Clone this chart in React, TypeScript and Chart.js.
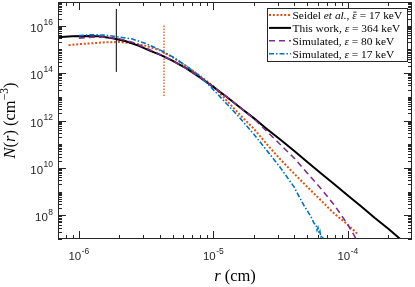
import React, { useEffect, useRef } from "react";
import { Chart, registerables } from "chart.js";

Chart.register(...registerables);

// ---------- data ----------
const seidelR = [8.4e-7, 1e-6, 1.26e-6, 1.58e-6, 2e-6, 2.5e-6, 3.16e-6, 3.98e-6, 5e-6, 6.3e-6, 7.94e-6, 1e-5, 1.26e-5, 1.58e-5, 2e-5, 2.5e-5, 3.16e-5, 3.98e-5, 5e-5, 6.3e-5, 7.94e-5, 1e-4, 1.2e-4];
const seidelN = [1.51e15, 1.66e15, 1.82e15, 2.0e15, 2.04e15, 1.86e15, 1.41e15, 9.3e14, 4.6e14, 1.95e14, 7.6e13, 2.8e13, 6.8e12, 1.74e12, 4.5e11, 1.0e11, 2.24e10, 5.8e9, 1.58e9, 4.3e8, 1.17e8, 4.0e7, 1.5e7];

const thisWorkR = [7e-7, 8.9e-7, 1.12e-6, 1.41e-6, 1.78e-6, 2.24e-6, 2.8e-6, 3.4e-6, 4e-6, 5e-6, 6.3e-6, 7.94e-6, 1e-5, 1.26e-5, 1.58e-5, 2e-5, 2.5e-5, 3.16e-5, 3.98e-5, 5e-5, 6.3e-5, 7.94e-5, 1e-4, 1.26e-4, 1.58e-4, 2.0e-4, 2.5e-4];
const thisWorkN = [3.24e15, 3.55e15, 3.7e15, 3.55e15, 2.95e15, 2.19e15, 1.41e15, 8.7e14, 6.0e14, 3.3e14, 1.58e14, 6.6e13, 2.63e13, 9.8e12, 3.55e12, 1.26e12, 4.42e11, 1.53e11, 5.25e10, 1.78e10, 6.0e9, 2.04e9, 6.9e8, 2.34e8, 7.9e7, 2.7e7, 9.1e6];

const sim80R = [1e-6, 1.26e-6, 1.58e-6, 2e-6, 2.5e-6, 3.16e-6, 3.98e-6, 5e-6, 6.3e-6, 7.94e-6, 1e-5, 1.26e-5, 1.58e-5, 2e-5, 2.5e-5, 3.16e-5, 3.98e-5, 5e-5, 6.3e-5, 7.94e-5, 1e-4, 1.12e-4, 1.16e-4];
const sim80N = [3.0e15, 3.3e15, 3.3e15, 2.8e15, 2.0e15, 1.15e15, 6.3e14, 3.3e14, 1.58e14, 6.8e13, 2.63e13, 1.0e13, 3.55e12, 1.2e12, 3.47e11, 9.5e10, 2.63e10, 6.0e9, 1.35e9, 2.7e8, 4.0e7, 1.35e7, 8.9e6];

const sim17R = [1e-6, 1.26e-6, 1.58e-6, 2e-6, 2.5e-6, 3.16e-6, 3.98e-6, 5e-6, 6.3e-6, 7.94e-6, 1e-5, 1.26e-5, 1.58e-5, 2e-5, 2.5e-5, 3.16e-5, 3.98e-5, 4.68e-5, 5.3e-5, 5.62e-5, 5.8e-5, 5.9e-5, 6.0e-5, 6.1e-5, 6.2e-5, 6.3e-5, 6.45e-5, 6.6e-5, 6.8e-5];
const sim17N = [3.8e15, 4.17e15, 3.98e15, 3.31e15, 2.75e15, 1.74e15, 9.8e14, 4.8e14, 2.0e14, 7.6e13, 2.0e13, 5.0e12, 1.26e12, 2.63e11, 5.4e10, 1.0e10, 1.58e9, 2.8e8, 9.0e7, 4.5e7, 4.0e7, 2.4e7, 3.0e7, 1.7e7, 2.1e7, 1.2e7, 1.4e7, 8.5e6, 6.5e6];

const markerThisWorkR = [1.9e-6, 1.9e-6];
const markerThisWorkN = [1.12e14, 5.1e16];
const markerSeidelR = [4.3e-6, 4.3e-6];
const markerSeidelN = [1.07e13, 1.07e16];

const seriesLabels = [
  "Seidel et al., ε̄ = 17 keV",
  "This work, ε = 364 keV",
  "Simulated, ε = 80 keV",
  "Simulated, ε = 17 keV",
];

const xRange = [7e-7, 3e-4];
const yRange = [1e7, 1e17];
const xTickValues = [1e-6, 1e-5, 1e-4];
const xTickExponents = ["-6", "-5", "-4"];
const yTickValues = [1e8, 1e10, 1e12, 1e14, 1e16];
const yTickExponents = ["8", "10", "12", "14", "16"];

type Run = { text: string; italic?: boolean; sup?: boolean };
const xAxisTitle: Run[] = [{ text: "r", italic: true }, { text: " (cm)" }];
const yAxisTitle: Run[] = [
  { text: "N", italic: true },
  { text: "(" },
  { text: "r", italic: true },
  { text: ") (cm" },
  { text: "−3", sup: true },
  { text: ")" },
];

// ---------- styles ----------
const ORANGE = "#D95319";
const BLUE = "#0072BD";
const PURPLE = "#7E2F8E";
const BLACK = "#000000";
const SERIF = "'Liberation Serif', 'Times New Roman', serif";
const SANS = "'Liberation Sans', Arial, sans-serif";
const MACRON = "\u0304";

function runFont(r: Run, size: number) {
  const s = r.sup ? size * 0.7 : size;
  return `${r.italic ? "italic " : ""}${s}px ${SERIF}`;
}
function measureRuns(ctx: CanvasRenderingContext2D, runs: Run[], size: number) {
  let w = 0;
  for (const r of runs) {
    ctx.font = runFont(r, size);
    w += ctx.measureText(r.text.replace(MACRON, "")).width;
  }
  return w;
}
function drawRuns(ctx: CanvasRenderingContext2D, runs: Run[], x: number, y: number, size: number) {
  ctx.textAlign = "left";
  ctx.textBaseline = "alphabetic";
  let cx = x;
  for (const r of runs) {
    ctx.font = runFont(r, size);
    const hasBar = r.text.includes(MACRON);
    const t = r.text.replace(MACRON, "");
    const ty = r.sup ? y - size * 0.4 : y;
    ctx.fillText(t, cx, ty);
    const w = ctx.measureText(t).width;
    if (hasBar) {
      // overbar of the averaged quantity
      ctx.fillRect(cx + w * 0.22, ty - size * 0.62, w * 0.72, Math.max(0.8, size * 0.07));
    }
    cx += w;
  }
}
function legendRuns(label: string): Run[] {
  return label
    .split(/(et al\.|ε̄|ε)/)
    .filter((s) => s.length > 0)
    .map((s) => ({ text: s, italic: /^(et al\.|ε̄|ε)$/.test(s) }));
}

const BASE_FS = 11.5;
const EXP_FS = 8.5;
function drawPow(ctx: CanvasRenderingContext2D, exp: string, x: number, yBase: number, yExp: number, align: "center" | "right") {
  ctx.font = `${BASE_FS}px ${SANS}`;
  const wb = ctx.measureText("10").width;
  ctx.font = `${EXP_FS}px ${SANS}`;
  const we = ctx.measureText(exp).width;
  const total = wb + we + 0.5;
  const left = align === "right" ? x - total : x - total / 2;
  ctx.textAlign = "left";
  ctx.textBaseline = "middle";
  ctx.fillStyle = "#262626";
  ctx.font = `${BASE_FS}px ${SANS}`;
  ctx.fillText("10", left, yBase);
  ctx.font = `${EXP_FS}px ${SANS}`;
  ctx.fillText(exp, left + wb + 0.5, yExp);
}

const decorPlugin = {
  id: "decor",
  afterDatasetsDraw(chart: any) {
    const ctx: CanvasRenderingContext2D = chart.ctx;
    const { left, right, top, bottom } = chart.chartArea;
    const xs = chart.scales.x;
    const ys = chart.scales.y;
    ctx.save();

    // frame
    ctx.strokeStyle = "#262626";
    ctx.lineWidth = 1;
    ctx.setLineDash([]);
    ctx.strokeRect(left + 0.5, top + 0.5, right - left - 1, bottom - top - 1);

    // inward ticks on all four sides
    const xMinor: number[] = [];
    for (let e = -7; e <= -4; e++) for (let k = 2; k <= 9; k++) xMinor.push(k * Math.pow(10, e));
    const yMinor: number[] = [];
    for (let e = 7; e <= 16; e++) {
      if (!yTickValues.some((v) => Math.abs(Math.log10(v) - e) < 1e-9)) yMinor.push(Math.pow(10, e));
      for (let k = 2; k <= 9; k++) yMinor.push(k * Math.pow(10, e));
    }
    ctx.beginPath();
    const xTick = (v: number, len: number) => {
      if (v < xRange[0] || v > xRange[1]) return;
      const p = Math.round(xs.getPixelForValue(v)) + 0.5;
      ctx.moveTo(p, bottom);
      ctx.lineTo(p, bottom - len);
      ctx.moveTo(p, top);
      ctx.lineTo(p, top + len);
    };
    const yTick = (v: number, len: number) => {
      if (v < yRange[0] || v > yRange[1]) return;
      const p = Math.round(ys.getPixelForValue(v)) + 0.5;
      ctx.moveTo(left, p);
      ctx.lineTo(left + len, p);
      ctx.moveTo(right, p);
      ctx.lineTo(right - len, p);
    };
    xTickValues.forEach((v) => xTick(v, 8));
    xMinor.forEach((v) => xTick(v, 4));
    yTickValues.forEach((v) => yTick(v, 8));
    yMinor.forEach((v) => yTick(v, 4));
    ctx.stroke();

    // tick labels
    xTickValues.forEach((v, i) => {
      const p = xs.getPixelForValue(v);
      drawPow(ctx, xTickExponents[i], p, bottom + 17.5, bottom + 12.5, "center");
    });
    yTickValues.forEach((v, i) => {
      const p = ys.getPixelForValue(v);
      drawPow(ctx, yTickExponents[i], left - 5, p + 3, p - 3, "right");
    });

    // axis titles
    ctx.fillStyle = "#000";
    const TFS = 16.5;
    const wx = measureRuns(ctx, xAxisTitle, TFS);
    drawRuns(ctx, xAxisTitle, (left + right) / 2 - wx / 2, bottom + 42, TFS);
    const wy = measureRuns(ctx, yAxisTitle, TFS);
    ctx.save();
    ctx.translate(15, (top + bottom) / 2);
    ctx.rotate(-Math.PI / 2);
    drawRuns(ctx, yAxisTitle, -wy / 2, 0, TFS);
    ctx.restore();

    // legend
    const LX = 267, LY = 8, LW = 140, LH = 53;
    ctx.fillStyle = "#fff";
    ctx.fillRect(LX, LY, LW, LH);
    ctx.strokeStyle = "#262626";
    ctx.lineWidth = 1;
    ctx.setLineDash([]);
    ctx.strokeRect(LX + 0.5, LY + 0.5, LW, LH);
    const items = chart.data.datasets.filter((d: any) => d.label);
    items.forEach((d: any, i: number) => {
      const cy = 15 + i * 12.9;
      ctx.beginPath();
      ctx.strokeStyle = d.borderColor;
      ctx.lineWidth = d.borderWidth;
      ctx.setLineDash(d.borderDash || []);
      ctx.lineCap = "butt";
      ctx.moveTo(269, cy);
      ctx.lineTo(291, cy);
      ctx.stroke();
      ctx.setLineDash([]);
      ctx.fillStyle = "#000";
      drawRuns(ctx, legendRuns(d.label), 292.5, cy + 3.8, 11.4);
    });

    ctx.restore();
  },
};

function series(label: string | undefined, xs: number[], ys: number[], color: string, width: number, dash: number[], order: number) {
  return {
    label,
    data: xs.map((x, i) => ({ x, y: ys[i] })),
    borderColor: color,
    backgroundColor: color,
    borderWidth: width,
    borderDash: dash,
    borderCapStyle: "butt",
    pointRadius: 0,
    pointHoverRadius: 0,
    tension: 0,
    fill: false,
    order,
  };
}

export default function App() {
  const ref = useRef<HTMLCanvasElement>(null);
  useEffect(() => {
    document.body.style.margin = "0";
    const chart = new Chart(ref.current as HTMLCanvasElement, {
      type: "line",
      data: {
        datasets: [
          series(seriesLabels[0], seidelR, seidelN, ORANGE, 2, [2, 1.8], 3),
          series(seriesLabels[1], thisWorkR, thisWorkN, BLACK, 2, [], 2),
          series(seriesLabels[2], sim80R, sim80N, PURPLE, 1.6, [6, 4], 1),
          series(seriesLabels[3], sim17R, sim17N, BLUE, 1.6, [5, 2, 1.5, 2], 0),
          series(undefined, markerThisWorkR, markerThisWorkN, BLACK, 1, [], 4),
          series(undefined, markerSeidelR, markerSeidelN, ORANGE, 1.3, [1.5, 1.5], 5),
        ] as any,
      },
      options: {
        responsive: false,
        maintainAspectRatio: false,
        animation: false,
        devicePixelRatio: 1,
        events: [],
        layout: { padding: { top: 2, right: 3, left: 0, bottom: 0 } },
        plugins: {
          legend: { display: false },
          tooltip: { enabled: false },
          title: { display: false },
        },
        scales: {
          x: {
            type: "logarithmic",
            min: xRange[0],
            max: xRange[1],
            grid: { display: false, drawTicks: false },
            border: { display: false },
            ticks: { display: false },
            afterFit: (s: any) => {
              s.height = 48;
            },
          },
          y: {
            type: "logarithmic",
            min: yRange[0],
            max: yRange[1],
            grid: { display: false, drawTicks: false },
            border: { display: false },
            ticks: { display: false },
            afterFit: (s: any) => {
              s.width = 58;
            },
          },
        },
      },
      plugins: [decorPlugin],
    } as any);
    return () => chart.destroy();
  }, []);
  return (
    <div style={{ width: 415, height: 287 }}>
      <canvas ref={ref} width={415} height={287} style={{ display: "block", width: 415, height: 287 }} />
    </div>
  );
}
